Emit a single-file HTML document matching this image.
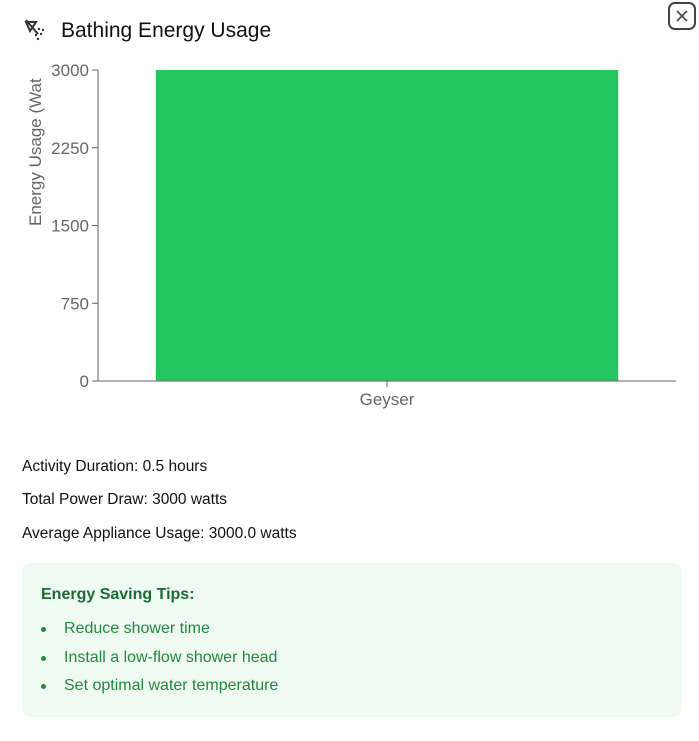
<!DOCTYPE html>
<html><head><meta charset="utf-8"><style>
body{margin:0;width:699px;height:741px;background:#fff;font-family:"Liberation Sans",sans-serif;position:relative;overflow:hidden}
.t{position:absolute;left:61px;top:19px;font-size:21px;color:#111}
.stat{position:absolute;left:22px;font-size:15.5px;color:#111}
.tips{position:absolute;left:22px;top:563px;width:660px;height:154px;background:#effbf2;border-radius:8px}
.tips h4{margin:0;position:absolute;left:19px;top:23px;font-size:16px;font-weight:bold;color:#1c6b36}
.tips li{position:absolute;left:42px;font-size:16px;color:#23883f;list-style:none}
.tips li::before{content:"";position:absolute;left:-23px;top:7px;width:5px;height:5px;border-radius:50%;background:#23883f}
</style></head><body>
<svg style="position:absolute;left:24px;top:19px" width="24" height="22" viewBox="0 0 24 22">
<path d="M2 3 L12 3 L6 12 Z" fill="none" stroke="#333" stroke-width="2"/><line x1="2" y1="1" x2="14" y2="15" stroke="#333" stroke-width="2"/>
<circle cx="15" cy="10" r="1.2" fill="#333"/><circle cx="19" cy="11" r="1.2" fill="#333"/><circle cx="12" cy="16" r="1.2" fill="#333"/><circle cx="17" cy="15" r="1.2" fill="#333"/><circle cx="14" cy="20" r="1.2" fill="#333"/>
</svg>
<div class="t">Bathing Energy Usage</div>
<svg style="position:absolute;left:668px;top:2px" width="28" height="28" viewBox="0 0 28 28">
<rect x="1" y="1" width="26" height="26" rx="6" fill="none" stroke="#444" stroke-width="2"/>
<line x1="9" y1="9" x2="19" y2="19" stroke="#444" stroke-width="1.6"/><line x1="19" y1="9" x2="9" y2="19" stroke="#444" stroke-width="1.6"/></svg>
<svg id="chart" style="position:absolute;left:0;top:0" width="699" height="420"></svg>
<div class="stat" style="top:458px">Activity Duration: 0.5 hours</div>
<div class="stat" style="top:491px">Total Power Draw: 3000 watts</div>
<div class="stat" style="top:525px">Average Appliance Usage: 3000.0 watts</div>
<div class="tips">
<h4>Energy Saving Tips:</h4>
<ul style="margin:0;padding:0">
<li style="top:57px">Reduce shower time</li>
<li style="top:86px">Install a low-flow shower head</li>
<li style="top:114px">Set optimal water temperature</li>
</ul></div>
<script>
const categories=["Geyser"];
const values=[3000];
const ticks=[0,750,1500,2250,3000];
const svg=document.getElementById('chart');const NS="http://www.w3.org/2000/svg";
const x0=98,x1=676,y0=381,y1=70,yMax=3000;
const y=v=>y0-(v/yMax)*(y0-y1);
const bw=(x1-x0)/categories.length;
function mk(t,a){const e=document.createElementNS(NS,t);for(const k in a)e.setAttribute(k,a[k]);svg.appendChild(e);return e;}
categories.forEach((c,i)=>{
const b=mk('rect',{x:x0+i*bw+bw*0.1,y:y(values[i]),width:bw*0.8,height:y0-y(values[i]),fill:'#22c55e'});


const l=mk('text',{x:x0+i*bw+bw/2,y:y0+24,'text-anchor':'middle','font-size':'17',fill:'#666','font-family':'Liberation Sans'});l.textContent=c;


mk('line',{x1:x0+i*bw+bw/2,x2:x0+i*bw+bw/2,y1:y0,y2:y0+6,stroke:'#666'});
});
ticks.forEach(t=>{
mk('line',{x1:x0-6,x2:x0,y1:y(t),y2:y(t),stroke:'#666'});
const l=mk('text',{x:x0-9,y:y(t)+6,'text-anchor':'end','font-size':'17',fill:'#666','font-family':'Liberation Sans'});l.textContent=t;


});
mk('line',{x1:x0,x2:x0,y1:y1,y2:y0,stroke:'#666'});
mk('line',{x1:x0,x2:x1,y1:y0,y2:y0,stroke:'#666'});
const yt=mk('text',{x:0,y:0,transform:'translate(41,226) rotate(-90)','font-size':'17',fill:'#666','font-family':'Liberation Sans'});yt.textContent='Energy Usage (Wat';


</script>
</body></html>
